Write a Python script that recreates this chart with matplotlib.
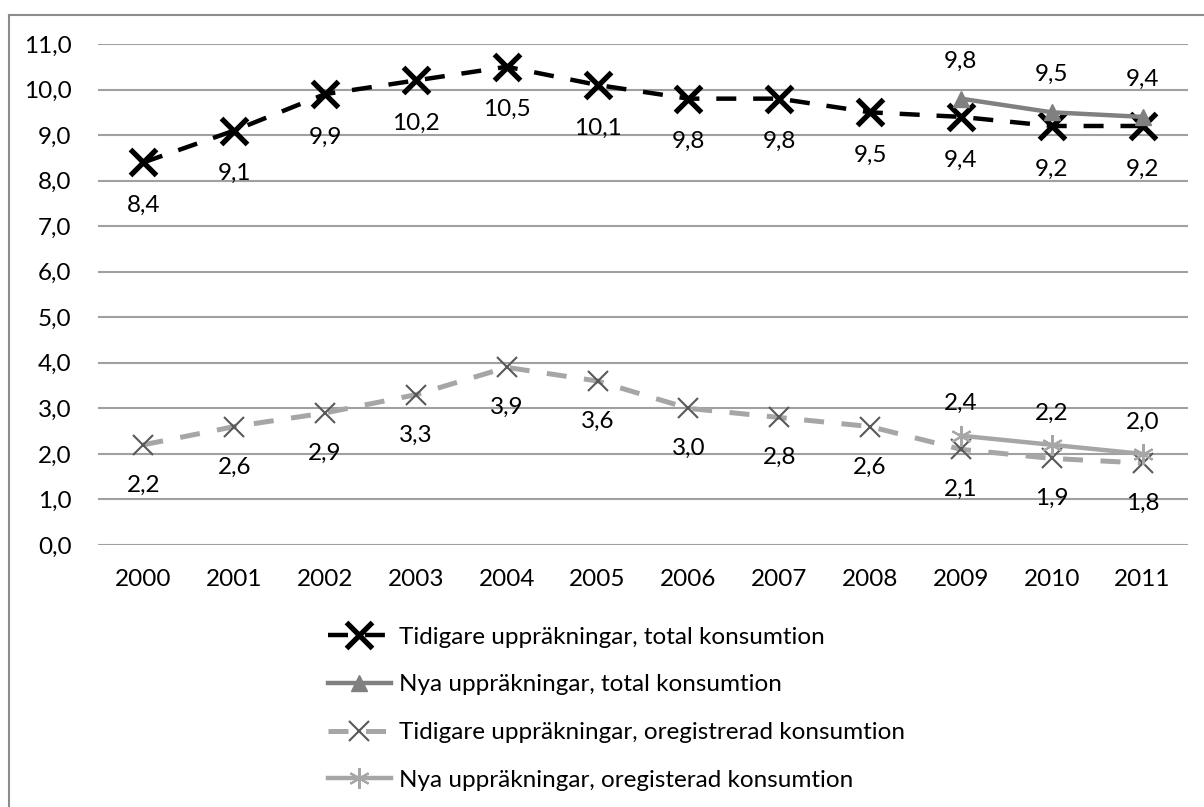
import matplotlib
matplotlib.use('Agg')
import matplotlib.pyplot as plt
from matplotlib.lines import Line2D

# --- data ---
years = ['2000', '2001', '2002', '2003', '2004', '2005',
         '2006', '2007', '2008', '2009', '2010', '2011']
old_total = [8.4, 9.1, 9.9, 10.2, 10.5, 10.1, 9.8, 9.8, 9.5, 9.4, 9.2, 9.2]
new_total = [9.8, 9.5, 9.4]            # 2009-2011
old_unreg = [2.2, 2.6, 2.9, 3.3, 3.9, 3.6, 3.0, 2.8, 2.6, 2.1, 1.9, 1.8]
new_unreg = [2.4, 2.2, 2.0]            # 2009-2011
new_years = years[9:]

labels = ['Tidigare uppräkningar, total konsumtion',
          'Nya uppräkningar, total konsumtion',
          'Tidigare uppräkningar, oregistrerad konsumtion',
          'Nya uppräkningar, oregisterad konsumtion']
yticks = [0, 1, 2, 3, 4, 5, 6, 7, 8, 9, 10, 11]

plt.rcParams['font.family'] = ['Lato', 'DejaVu Sans']
FS = 17.5

W, H = 1204, 807
fig = plt.figure(figsize=(W / 100, H / 100), dpi=100)
ax = fig.add_axes([98 / W, 1 - 545 / H, (1188 - 98) / W, (545 - 44) / H])

x_all = list(range(len(years)))
x_new = x_all[9:]

# gridlines
for v in yticks:
    ax.axhline(v, color='#a0a0a0', lw=1.5, zorder=0)

ax.plot(x_all, old_unreg, color='#a6a6a6', lw=3.6, dashes=(4, 3.5),
        marker='x', ms=14, mec='#595959', mew=1.5, zorder=3, label=labels[2])
ax.plot(x_new, new_unreg, color='#a6a6a6', lw=3.2,
        marker=(6, 2, 0), ms=15, mec='#a6a6a6', mew=1.5, zorder=4, label=labels[3])
ax.plot(x_all, old_total, color='black', lw=3.2, dashes=(4.5, 3.8),
        marker='x', ms=19, mew=3.8, zorder=5, label=labels[0])
ax.plot(x_new, new_total, color='#808080', lw=3.2,
        marker='^', ms=12, zorder=6, label=labels[1])

def fmt(v):
    return f'{v:.1f}'.replace('.', ',')

for x, v in zip(x_all, old_total):
    ax.annotate(fmt(v), (x, v), xytext=(0, -31), textcoords='offset points',
                ha='center', va='center', fontsize=FS)
for x, v in zip(x_new, new_total):
    ax.annotate(fmt(v), (x, v), xytext=(0, 27), textcoords='offset points',
                ha='center', va='center', fontsize=FS)
for x, v in zip(x_all, old_unreg):
    ax.annotate(fmt(v), (x, v), xytext=(0, -29), textcoords='offset points',
                ha='center', va='center', fontsize=FS)
for x, v in zip(x_new, new_unreg):
    ax.annotate(fmt(v), (x, v), xytext=(0, 23), textcoords='offset points',
                ha='center', va='center', fontsize=FS)

ax.set_xlim(-0.5, len(years) - 0.5)
ax.set_ylim(0, 11)
ax.set_xticks(x_all)
ax.set_xticklabels(years, fontsize=FS)
ax.set_yticks(yticks)
ax.set_yticklabels([fmt(v) for v in yticks], fontsize=FS)
ax.tick_params(length=0)
ax.tick_params(axis='x', pad=17)
ax.tick_params(axis='y', pad=19)
for s in ax.spines.values():
    s.set_visible(False)

# legend
h, l = ax.get_legend_handles_labels()
order = [2, 3, 0, 1]
leg = fig.legend([h[i] for i in order], [l[i] for i in order],
                 loc='upper left', bbox_to_anchor=(318 / W, 1 - 617 / H),
                 frameon=False, fontsize=FS, handlelength=2.6,
                 handletextpad=0.33, labelspacing=1.1, borderaxespad=0)

# outer chart border
fig.add_artist(Line2D([9 / W, 1], [1 - 15 / H, 1 - 15 / H], color='#8c8c8c', lw=1.5))
fig.add_artist(Line2D([9 / W, 9 / W], [0, 1 - 15 / H], color='#8c8c8c', lw=1.5))

fig.savefig('out.png', dpi=100)
